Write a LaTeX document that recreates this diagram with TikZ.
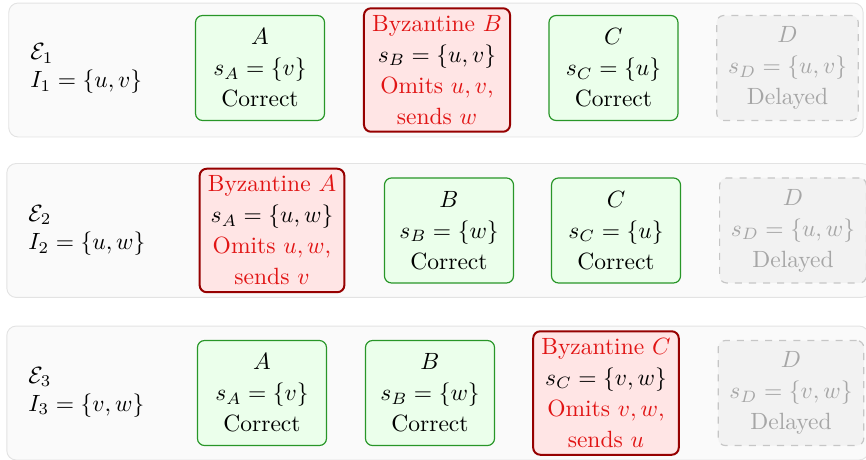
\documentclass[tikz,border=0pt]{standalone}
\usepackage{amsmath,amssymb}
\definecolor{okgreen}{RGB}{40,150,40}
\definecolor{byzred}{RGB}{150,0,0}
\definecolor{byztext}{RGB}{225,20,20}
\usetikzlibrary{fit,backgrounds}

\tikzset{
  rowbg/.style={draw=gray!22, fill=gray!4, rounded corners=4pt, inner sep=1.8pt},
  rowlabel/.style={anchor=west, align=left, inner xsep=7.2pt, inner ysep=0pt, font=\fontsize{10.3}{12}\selectfont},
  honest/.style={draw=okgreen, fill=green!8, line width=0.5pt, rounded corners=3pt, minimum width=1.93cm, minimum height=1.57cm, align=center, inner xsep=3.5pt, font=\fontsize{10}{13.2}\selectfont},
  byz/.style={draw=byzred, fill=red!10, line width=0.85pt, rounded corners=3pt, minimum width=1.93cm, align=center, inner xsep=3.5pt, inner ysep=3pt, text=byztext, font=\fontsize{10}{13.2}\selectfont},
  delayed/.style={draw=gray!45, fill=gray!10, dashed, line width=0.5pt, rounded corners=3pt, minimum width=1.93cm, minimum height=1.57cm, align=center, inner xsep=4.8pt, text=gray!70, font=\fontsize{10}{13.2}\selectfont}
}

\begin{document}
\begin{tikzpicture}
  \useasboundingbox (0,0) rectangle (12.952,6.865);

  %% Execution 1: B is Byzantine
  \node[rowlabel] (lab1) at (0.194,5.840) {$\mathcal{E}_1$\\$I_1 = \{u,v\}$};
  \node[honest] (a1) at (3.889,5.848) {$A$\\$s_A = \{v\}$\\Correct};
  \node[byz] (b1) at (6.536,5.818) {Byzantine $B$\\\textcolor{black}{$s_B = \{u,v\}$}\\Omits $u,v$,\\sends $w$};
  \node[honest] (c1) at (9.175,5.848) {$C$\\$s_C = \{u\}$\\Correct};
  \node[delayed] (d1) at (11.778,5.848) {$D$\\$s_D = \{u,v\}$\\Delayed};

  %% Execution 2: A is Byzantine
  \node[rowlabel] (lab2) at (0.165,3.418) {$\mathcal{E}_2$\\$I_2 = \{u,w\}$};
  \node[byz] (a2) at (4.068,3.418) {Byzantine $A$\\\textcolor{black}{$s_A = \{u,w\}$}\\Omits $u,w$,\\sends $v$};
  \node[honest] (b2) at (6.715,3.418) {$B$\\$s_B = \{w\}$\\Correct};
  \node[honest] (c2) at (9.213,3.418) {$C$\\$s_C = \{u\}$\\Correct};
  \node[delayed] (d2) at (11.860,3.418) {$D$\\$s_D = \{u,w\}$\\Delayed};

  %% Execution 3: C is Byzantine
  \node[rowlabel] (lab3) at (0.165,1.002) {$\mathcal{E}_3$\\$I_3 = \{v,w\}$};
  \node[honest] (a3) at (3.918,0.987) {$A$\\$s_A = \{v\}$\\Correct};
  \node[honest] (b3) at (6.431,0.987) {$B$\\$s_B = \{w\}$\\Correct};
  \node[byz] (c3) at (9.063,0.987) {Byzantine $C$\\\textcolor{black}{$s_C = \{v,w\}$}\\Omits $v,w$,\\sends $u$};
  \node[delayed] (d3) at (11.830,0.987) {$D$\\$s_D = \{v,w\}$\\Delayed};

  %% Row panels
  \begin{scope}[on background layer]
    \clip (0,0) rectangle (12.952,6.865);
    \node[rowbg, fit=(lab1)(b1)(d1)] (row1) {};
    \node[rowbg, fit=(lab2)(a2)(d2)] (row2) {};
    \node[rowbg, fit=(lab3)(c3)(d3)] (row3) {};
  \end{scope}
\end{tikzpicture}
\end{document}
